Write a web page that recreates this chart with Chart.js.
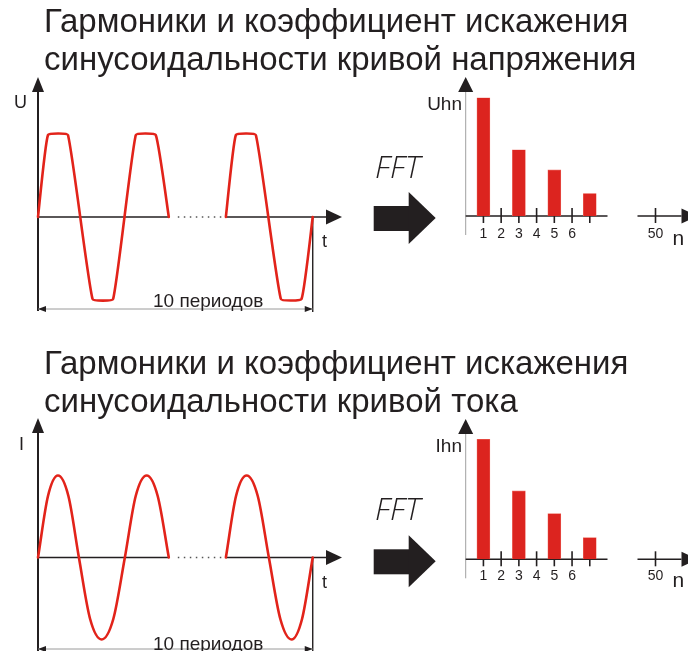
<!DOCTYPE html>
<html>
<head>
<meta charset="utf-8">
<title>Гармоники и коэффициент искажения</title>
<script src="https://cdn.jsdelivr.net/npm/chart.js"></script>
<style>
    html, body { margin: 0; padding: 0; background: #fff; }
    body {
        width: 688px; height: 651px; position: relative; overflow: hidden;
        font-family: "Liberation Sans", Arial, sans-serif; color: #231f20;
    }
    canvas { position: absolute; left: 0; top: 0; }
    .lbl { position: absolute; white-space: nowrap; line-height: 1; }
    .title { font-size: 33px; left: 44px; }
    .fft { font-family: "Open Sans", sans-serif; font-style: italic; font-weight: 300; font-size: 31px; }
    .tick { font-size: 14px; transform: translateX(-50%); }
</style>
</head>
<body>
<canvas id="waveU" width="688" height="651"></canvas>
<canvas id="harmU" width="688" height="651"></canvas>
<canvas id="waveI" width="688" height="651"></canvas>
<canvas id="harmI" width="688" height="651"></canvas>

<div class="lbl title" style="top:4px;">Гармоники и коэффициент искажения</div>
<div class="lbl title" style="top:42px;">синусоидальности кривой напряжения</div>
<div class="lbl title" style="top:346px;">Гармоники и коэффициент искажения</div>
<div class="lbl title" style="top:384px;">синусоидальности кривой тока</div>

<div class="lbl" style="left:14px;top:93px;font-size:18px;">U</div>
<div class="lbl" style="left:322px;top:232px;font-size:18px;">t</div>
<div class="lbl" style="left:153px;top:291px;font-size:19px;">10 периодов</div>
<div class="lbl" style="right:226px;top:94px;font-size:19px;">Uhn</div>
<div class="lbl fft" style="left:375px;top:151px;">FFT</div>

<div class="lbl" style="left:19px;top:435px;font-size:18px;">I</div>
<div class="lbl" style="left:322px;top:573px;font-size:18px;">t</div>
<div class="lbl" style="left:153px;top:634px;font-size:19px;">10 периодов</div>
<div class="lbl" style="right:226px;top:436px;font-size:19px;">Ihn</div>
<div class="lbl fft" style="left:375px;top:493px;">FFT</div>

<script>
// время в периодах, значения в долях амплитуды
const voltTimeA = [0, 0.115, 0.345, 0.628, 0.865, 1.126, 1.356, 1.506];
const voltValA  = [0, 1, 1, -1, -1, 1, 1, 0];
const voltTimeB = [2.163, 2.278, 2.508, 2.796, 3.034, 3.163];
const voltValB  = [0, 1, 1, -1, -1, 0];

const currTimeA = [0, 0.115, 0.23, 0.35, 0.471, 0.60, 0.733, 0.867, 1.0, 1.125, 1.251, 1.378, 1.506];
const currValA  = [0, 0.75, 1, 0.75, 0, -0.75, -1, -0.75, 0, 0.75, 1, 0.75, 0];
const currTimeB = [2.163, 2.28, 2.402, 2.53, 2.658, 2.79, 2.919, 3.04, 3.163];
const currValB  = [0, 0.75, 1, 0.75, 0, -0.75, -1, -0.75, 0];

// спектр: номера гармоник и амплитуды (1-я = 100)
const harmonics = [1, 3, 5, 7];
const voltHarm  = [100, 56, 39, 19];
const currHarm  = [100, 57, 38, 18];
const tickLabels = ['1', '2', '3', '4', '5', '6'];
const tickMarks  = [1, 2, 3, 4, 5, 6, 7];
const farTick = '50';

const INK = '#231f20';
const RED = '#e2231a';

function seg(ctx, x1, y1, x2, y2) {
    ctx.beginPath(); ctx.moveTo(x1, y1); ctx.lineTo(x2, y2); ctx.stroke();
}
function tri(ctx, pts) {
    ctx.beginPath(); ctx.moveTo(pts[0], pts[1]);
    for (let i = 2; i < pts.length; i += 2) ctx.lineTo(pts[i], pts[i + 1]);
    ctx.closePath(); ctx.fill();
}

// оси, пунктир, размерная линия для осциллограмм
const waveDecor = {
    id: 'waveDecor',
    beforeDatasetsDraw(chart, args, o) {
        const ctx = chart.ctx, xs = chart.scales.x, ys = chart.scales.y;
        const x0 = xs.getPixelForValue(0), y0 = ys.getPixelForValue(0);
        const xA = xs.getPixelForValue(o.endA);
        const xB = xs.getPixelForValue(o.startB);
        const xE = xs.getPixelForValue(o.endB);
        const xTip = chart.chartArea.right;
        ctx.save();
        ctx.strokeStyle = INK; ctx.fillStyle = INK;
        // ось Y
        ctx.lineWidth = 2;
        seg(ctx, x0, o.tipY + 10, x0, o.bottom);
        tri(ctx, [x0, o.tipY, x0 - 6, o.tipY + 15, x0 + 6, o.tipY + 15]);
        // ось t
        ctx.lineWidth = 1.6;
        seg(ctx, x0, y0, xA, y0);
        seg(ctx, xB, y0, xTip - 14, y0);
        tri(ctx, [xTip, y0, xTip - 16, y0 - 7.5, xTip - 16, y0 + 7.5]);
        ctx.setLineDash([1.5, 4.5]);
        ctx.strokeStyle = '#555';
        seg(ctx, xA + 9, y0, xB - 2, y0);
        ctx.setLineDash([]);
        // конец интервала
        ctx.strokeStyle = INK; ctx.lineWidth = 1.4;
        seg(ctx, xE, y0, xE, o.dimY + 3);
        // размерная линия
        ctx.strokeStyle = '#9a9a9a'; ctx.lineWidth = 1;
        seg(ctx, x0, o.dimY, xE, o.dimY);
        tri(ctx, [x0, o.dimY, x0 + 8, o.dimY - 3, x0 + 8, o.dimY + 3]);
        tri(ctx, [xE, o.dimY, xE - 8, o.dimY - 3, xE - 8, o.dimY + 3]);
        ctx.restore();
    }
};

// оси спектра и стрелка FFT
const barDecor = {
    id: 'barDecor',
    beforeDatasetsDraw(chart, args, o) {
        const ctx = chart.ctx, xs = chart.scales.x, ys = chart.scales.y;
        const x0 = xs.getPixelForValue(0), y0 = ys.getPixelForValue(0);
        const right = chart.chartArea.right;
        ctx.save();
        ctx.fillStyle = INK;
        ctx.strokeStyle = '#a0a0a0'; ctx.lineWidth = 1;
        seg(ctx, x0, o.tipY + 12, x0, y0 + 19);
        tri(ctx, [x0, o.tipY, x0 - 7.5, o.tipY + 15, x0 + 7.5, o.tipY + 15]);
        ctx.strokeStyle = INK; ctx.lineWidth = 1.6;
        seg(ctx, x0, y0, right, y0);
        tickMarks.forEach(h => {
            const x = xs.getPixelForValue(h);
            seg(ctx, x, y0 - 8, x, y0 + 7);
        });
        // участок оси с 50-й гармоникой
        const fx = right + 30;
        seg(ctx, fx, y0, fx + 44, y0);
        seg(ctx, fx + 18, y0 - 8, fx + 18, y0 + 7);
        tri(ctx, [fx + 60, y0, fx + 44, y0 - 7.5, fx + 44, y0 + 7.5]);
        // большая стрелка
        const ax = x0 - 92;
        ctx.fillRect(ax, y0 - 10, 36, 25);
        tri(ctx, [ax + 35, y0 - 24, ax + 62, y0 + 2, ax + 35, y0 + 28]);
        ctx.restore();
    }
};

function pts(t, v) { return t.map((x, i) => ({ x: x, y: v[i] })); }

const base = {
    responsive: false, animation: false, devicePixelRatio: 1, events: []
};

function waveChart(id, segs, mode, tension, yMin, yMax, pad, deco) {
    return new Chart(document.getElementById(id), {
        type: 'line',
        data: {
            datasets: segs.map(s => ({
                data: pts(s[0], s[1]),
                borderColor: RED, borderWidth: 2.6, pointRadius: 0,
                borderJoinStyle: 'round', borderCapStyle: 'round',
                cubicInterpolationMode: mode, tension: tension, clip: false
            }))
        },
        options: {
            ...base,
            layout: { padding: pad },
            scales: {
                x: { type: 'linear', min: 0, max: 3.5, display: false },
                y: { min: yMin, max: yMax, display: false }
            },
            plugins: { legend: { display: false }, tooltip: { enabled: false }, waveDecor: deco }
        },
        plugins: [waveDecor]
    });
}

function harmChart(id, vals, pad, deco) {
    return new Chart(document.getElementById(id), {
        type: 'bar',
        data: {
            datasets: [{
                data: pts(harmonics, vals),
                backgroundColor: '#dc241f', borderColor: '#ee6a5f', borderWidth: 0.6,
                barThickness: 13
            }]
        },
        options: {
            ...base,
            layout: { padding: pad },
            scales: {
                x: { type: 'linear', min: 0, max: 8, offset: false, grid: { offset: false }, display: false },
                y: { min: 0, max: 110, display: false }
            },
            plugins: { legend: { display: false }, tooltip: { enabled: false }, barDecor: deco }
        },
        plugins: [barDecor]
    });
}

function tickText(chart, baseline) {
    const xs = chart.scales.x;
    const add = (txt, x, size, top) => {
        const d = document.createElement('div');
        d.className = 'lbl tick';
        d.style.left = x + 'px';
        d.style.top = top + 'px';
        d.style.fontSize = size + 'px';
        d.textContent = txt;
        document.body.appendChild(d);
    };
    tickLabels.forEach((s, i) => add(s, xs.getPixelForValue(i + 1), 14, baseline - 12));
    const fx = chart.chartArea.right + 48;
    add(farTick, fx, 14, baseline - 12);
    const n = document.createElement('div');
    n.className = 'lbl';
    n.style.cssText = 'left:' + (fx + 17) + 'px;top:' + (baseline - 11) + 'px;font-size:21px;';
    n.textContent = 'n';
    document.body.appendChild(n);
}

waveChart('waveU', [[voltTimeA, voltValA], [voltTimeB, voltValB]], 'default', 0.12,
    -1.2, 1.2, { left: 38, right: 346, top: 118.6, bottom: 335.6 },
    { tipY: 77, bottom: 311, dimY: 309, endA: voltTimeA[voltTimeA.length - 1], startB: voltTimeB[0], endB: voltTimeB[voltTimeB.length - 1] });

waveChart('waveI', [[currTimeA, currValA], [currTimeB, currValB]], 'monotone', 0.4,
    -1.1, 1.2, { left: 38, right: 346, top: 459.1, bottom: 3.3 },
    { tipY: 418, bottom: 651, dimY: 649, endA: currTimeA[currTimeA.length - 1], startB: currTimeB[0], endB: currTimeB[currTimeB.length - 1] });

const hU = harmChart('harmU', voltHarm, { left: 465.7, right: 80.5, top: 85.9, bottom: 435 }, { tipY: 77 });
const hI = harmChart('harmI', currHarm, { left: 465.7, right: 80.5, top: 427.3, bottom: 91.7 }, { tipY: 419 });

tickText(hU, 238);
tickText(hI, 580);
</script>
</body>
</html>
